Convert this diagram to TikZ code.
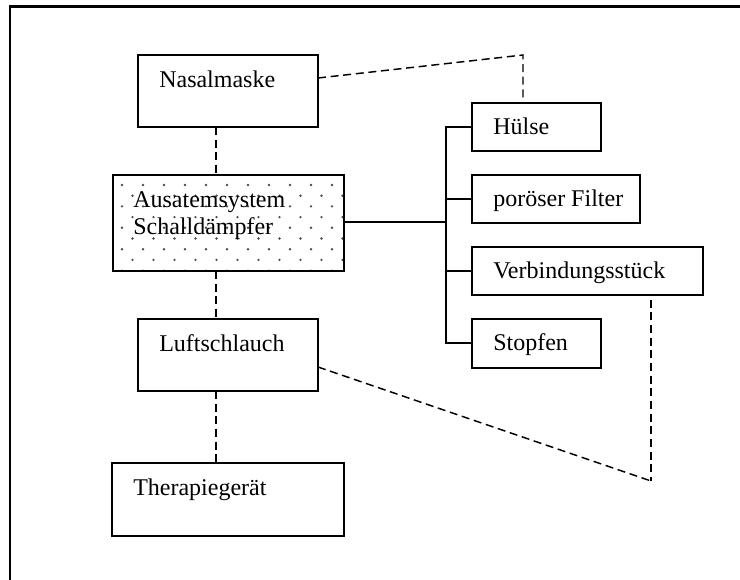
\documentclass[tikz,border=0pt]{standalone}
\usepackage{fontspec}
\setmainfont{Liberation Serif}
\begin{document}
\begin{tikzpicture}[x=0.75pt,y=-0.75pt,
  box/.style={draw=black,line width=1.1pt,fill=white},
  lbl/.style={anchor=base west,inner sep=0pt,font=\fontsize{18}{21}\selectfont},
  dsh/.style={line width=1.1pt,dash pattern=on 6pt off 3.5pt},
  conn/.style={line width=1.1pt}]
\useasboundingbox (0,0) rectangle (740,580);
% outer frame (only left and top visible)
\draw[line width=1.6pt] (10,580) -- (10,6.5) -- (740,6.5);
% left column boxes
\draw[box] (138,55) rectangle (318,127);
\coordinate (nasB) at (216,127);
\coordinate (nasR) at (318,78);
% Ausatemsystem box with dots
\draw[box] (113,175) rectangle (344,271);
\begin{scope}
\clip (114,176) rectangle (343,270);
\foreach \j in {0,...,8}{
  \pgfmathsetmacro{\yy}{185+\j*10.7}
  \pgfmathsetmacro{\off}{mod(\j,2)*10.5}
  \foreach \i in {0,...,11}{
    \fill[black!70] ({122+\off+\i*21},\yy) circle (1pt);
  }
}
\end{scope}
\coordinate (ausT) at (216,175);
\coordinate (ausB) at (216,271);
\coordinate (ausR) at (344,222);
\draw[box] (138,319) rectangle (318,391);
\coordinate (luT) at (216,319);
\coordinate (luB) at (216,391);
\coordinate (luR) at (318,367);
\draw[box] (112,463) rectangle (344,536);
\coordinate (thT) at (216,463);
% right column boxes
\draw[box] (472,103) rectangle (601,151);
\coordinate (huT) at (523,103);
\coordinate (huL) at (472,127);
\draw[box] (472,175) rectangle (640,223);
\coordinate (poL) at (472,199);
\draw[box] (472,247) rectangle (703,295);
\coordinate (veL) at (472,271);
\coordinate (veB) at (651,295);
\draw[box] (472,319) rectangle (601,368);
\coordinate (stL) at (472,343);
% labels
\node[lbl] (tnas) at (159,88) {Nasalmaske};
\node[lbl] (taus1) at (133,208) {Ausatemsystem};
\node[lbl] (taus2) at (133,235) {Schalldämpfer};
\node[lbl] (tlu) at (159,352) {Luftschlauch};
\node[lbl] (tth) at (133,496) {Therapiegerät};
\node[lbl] (thu) at (493,135) {Hülse};
\node[lbl] (tpo) at (493,207) {poröser Filter};
\node[lbl] (tve) at (493,279) {Verbindungsstück};
\node[lbl] (tst) at (493,351) {Stopfen};
% tree connectors
\coordinate (trT) at (446,127);
\coordinate (trB) at (446,343);
\coordinate (trM) at (446,222);
\draw[conn] (ausR) -- (trM);
\draw[conn] (huL) -- (trT) -- (trB) -- (stL);
\draw[conn] (poL) -- (446,199);
\draw[conn] (veL) -- (446,271);
% dashed connectors
\draw[dsh] (nasB) -- (ausT);
\draw[dsh] (ausB) -- (luT);
\draw[dsh] (luB) -- (thT);
\coordinate (k1) at (523,55);
\draw[dsh] (nasR) -- (k1) -- (huT);
\coordinate (k2) at (651,481);
\draw[dsh,dash phase=6pt] (veB) -- (k2);
\draw[dsh] (luR) -- (k2);
\end{tikzpicture}
\end{document}
